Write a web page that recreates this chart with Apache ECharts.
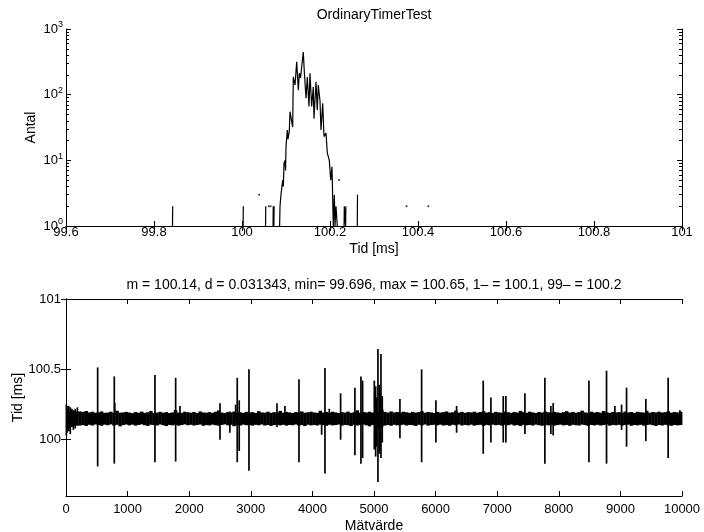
<!DOCTYPE html>
<html><head><meta charset="utf-8">
<script src="https://cdn.jsdelivr.net/npm/echarts@6/dist/echarts.min.js"></script>
<style>html,body{margin:0;padding:0;background:#fff}#c{width:704px;height:532px}</style>
</head><body><div id="c"></div>
<script>
// ---------- Histogram (top) : time bins [ms] and counts; null separates line pieces ----------
const histTime = [
  99.8420, 99.8425, null,
  100.0025, 100.0030, null,
  100.0535, 100.0540, null,
  100.0705, 100.0710, 100.0725, 100.0730, null,
  100.0855, 100.0864, 100.0886, 100.0925, 100.0940, 100.0955, 100.0977, 100.0990, 100.1000, 100.1030,
  100.1045, 100.1075, 100.1091, 100.1130, 100.1152, 100.1166, 100.1205, 100.1243, 100.1280, 100.1302,
  100.1330, 100.1357, 100.1393, 100.1416, 100.1455, 100.1484, 100.1523, 100.1545, 100.1584, 100.1620,
  100.1636, 100.1682, 100.1711, 100.1734, 100.1773, 100.1795, 100.1834, 100.1864, 100.1909, 100.1939,
  100.1984, 100.2016, 100.2045, 100.2075, 100.2098, 100.2114, 100.2136, 100.2166, null,
  100.2320, 100.2325, 100.2355, 100.2360, null,
  100.2620, 100.2625
];
const histCount = [
  1, 2, null,
  1, 2, null,
  1, 2, null,
  1, 2, 1, 2, null,
  1, 2, 3, 5, 4, 9, 10, 7, 16, 29,
  21, 28, 55, 52, 32, 186, 140, 316, 117, 212,
  180, 266, 445, 226, 88, 186, 66, 212, 66, 132,
  43, 157, 58, 140, 80, 29, 74, 23, 26, 13,
  10, 5, 8, 1, 3, 1, 2, 1, null,
  1, 2, 1, 2, null,
  1, 3
];
// isolated single bins (drawn as dots)
const dotTime  = [100.039, 100.061, 100.065, 100.2205, 100.374, 100.4234];
const dotCount = [3, 2, 2, 5, 2, 2];

// ---------- Time series (bottom) ----------
const BIN = 50; // samples per band bin
const bandHi = [
100.214,100.206,100.203,100.199,100.201,100.198,100.204,100.194,100.199,100.192,100.195,100.201,100.191,100.193,100.199,100.190,100.206,100.192,100.194,100.198,
100.193,100.189,100.197,100.192,100.200,100.191,100.195,100.204,100.190,100.193,100.198,100.192,100.196,100.190,100.194,100.211,100.193,100.191,100.199,100.195,
100.192,100.197,100.190,100.201,100.194,100.192,100.196,100.191,100.199,100.208,100.193,100.190,100.197,100.194,100.200,100.192,100.195,100.191,100.198,100.193,
100.196,100.190,100.203,100.194,100.192,100.199,100.191,100.196,100.193,100.205,100.192,100.198,100.194,100.190,100.197,100.193,100.201,100.192,100.195,100.199,
100.194,100.191,100.206,100.193,100.197,100.192,100.199,100.194,100.190,100.196,100.193,100.200,100.191,100.195,100.209,100.192,100.197,100.194,100.199,100.193,
100.204,100.195,100.214,100.198,100.193,100.201,100.194,100.197,100.192,100.199,100.195,100.191,100.198,100.193,100.196,100.203,100.192,100.197,100.194,100.190,
100.198,100.193,100.196,100.201,100.192,100.195,100.207,100.193,100.198,100.191,100.196,100.194,100.199,100.192,100.197,100.203,100.193,100.196,100.191,100.198,
100.194,100.192,100.200,100.195,100.191,100.197,100.193,100.205,100.196,100.192,100.199,100.194,100.190,100.197,100.193,100.201,100.195,100.192,100.198,100.194,
100.191,100.196,100.203,100.193,100.198,100.192,100.196,100.207,100.194,100.191,100.199,100.193,100.197,100.192,100.204,100.195,100.191,100.198,100.194,100.196,
100.192,100.200,100.194,100.197,100.191,100.198,100.195,100.193,100.206,100.192,100.197,100.194,100.199,100.193,100.196,100.202,100.192,100.197,100.194,100.199
];
const bandLo = [
100.088,100.094,100.097,100.099,100.101,100.104,100.098,100.106,100.101,100.108,100.104,100.099,100.107,100.103,100.109,100.101,100.106,100.095,100.104,100.108,
100.102,100.107,100.100,100.105,100.109,100.103,100.098,100.106,100.104,100.101,100.108,100.103,100.097,100.105,100.102,100.107,100.100,100.104,100.109,100.103,
100.106,100.101,100.105,100.108,100.099,100.104,100.102,100.107,100.103,100.100,100.105,100.109,100.102,100.106,100.096,100.104,100.101,100.107,100.103,100.105,
100.100,100.106,100.103,100.108,100.101,100.105,100.098,100.104,100.107,100.102,100.106,100.100,100.105,100.103,100.108,100.101,100.104,100.097,100.106,100.102,
100.105,100.101,100.107,100.103,100.099,100.106,100.102,100.104,100.108,100.100,100.105,100.103,100.097,100.106,100.101,100.104,100.108,100.102,100.095,100.105,
100.090,100.086,100.094,100.101,100.105,100.099,100.106,100.102,100.104,100.107,100.101,100.105,100.103,100.098,100.106,100.102,100.108,100.100,100.104,100.106,
100.102,100.107,100.101,100.104,100.099,100.106,100.103,100.108,100.101,100.105,100.102,100.107,100.100,100.104,100.106,100.098,100.105,100.102,100.107,100.103,
100.105,100.100,100.106,100.103,100.108,100.101,100.104,100.097,100.106,100.102,100.105,100.101,100.107,100.103,100.099,100.105,100.102,100.106,100.100,100.104,
100.107,100.102,100.105,100.099,100.106,100.103,100.101,100.107,100.104,100.098,100.105,100.102,100.106,100.101,100.104,100.108,100.100,100.105,100.103,100.106,
100.101,100.104,100.107,100.099,100.105,100.102,100.106,100.100,100.104,100.107,100.103,100.098,100.105,100.101,100.106,100.103,100.099,100.105,100.102,100.104
];
// outlier samples: index, highest value, lowest value (null = stays in band)
const spikeIdx  = [6, 16, 30, 45, 60, 70, 95, 120, 150, 185, 514, 784, 792, 1444, 1780, 1850, 2500, 2660, 2754, 2780, 2812, 2970, 3425, 3554, 3782,
                   4150, 4204, 4274, 4458, 4690, 4788, 4815, 5005, 5027, 5040, 5064, 5085, 5100, 5113, 5134, 5421, 5773, 6005, 6341, 6773,
                   6898, 7098, 7141, 7450, 7774, 7871, 7909, 8489, 8775, 8910, 9019, 9100, 9413, 9775, 9966];
const spikeHigh = [100.25, 100.24, 100.22, 100.24, 100.21, 100.23, 100.22, 100.21, 100.22, 100.23, 100.514, 100.45, 100.26, 100.46, 100.44, 100.24, 100.26, 100.20, 100.25, 100.44, 100.28, 100.50, 100.26, 100.24, 100.43,
                   null, 100.51, 100.22, 100.33, 100.37, 100.45, 100.42, 100.42, 100.38, 100.30, 100.645, 100.39, 100.35, 100.61, 100.31, 100.29, 100.50, 100.28, 100.24, 100.42,
                   100.30, 100.31, 100.31, 100.33, 100.44, 100.24, 100.26, 100.42, 100.49, 100.24, 100.25, 100.37, 100.29, 100.44, 100.21];
const spikeLow  = [100.03, 100.05, 100.07, 100.06, 100.08, 100.04, 100.09, 100.07, 100.08, null, 99.81, 99.83, null, 99.84, 99.845, null, 100.00, 100.05, null, 99.84, 99.92, 99.78, 100.09, null, 99.84,
                   100.035, 99.76, null, 100.00, 99.89, 99.83, 99.87, 99.93, 99.88, 99.95, 99.70, 99.90, 99.92, 99.87, 99.98, 100.01, 99.84, 99.98, 100.05, 99.90,
                   99.98, 99.98, 99.98, 100.04, 99.83, 100.04, 100.03, 99.84, 99.83, null, 100.07, 99.95, 99.99, 99.87, null];
const BASE = 100.15;

const title1 = 'OrdinaryTimerTest';
const title2 = 'm = 100.14, d = 0.031343, min= 99.696, max = 100.65, 1\u2013 = 100.1, 99\u2013 = 100.2';
const bottomYTicks = [100, 100.5, 101];

// ---------- build ----------
const FONT = 'Liberation Sans, Arial, Helvetica, sans-serif';
const histSegments = [];
let cur = [];
histTime.forEach((t, i) => {
  if (t === null) { if (cur.length) histSegments.push(cur); cur = []; }
  else cur.push([t, histCount[i]]);
});
if (cur.length) histSegments.push(cur);

const minorLog = [];
for (let d = 0; d < 3; d++) for (let k = 2; k <= 9; k++) minorLog.push(Math.log10(k * Math.pow(10, d)));

const lineBlack = { show: true, lineStyle: { color: '#000', width: 1 } };
const tickIn = (len) => ({ show: true, inside: true, length: len, lineStyle: { color: '#000', width: 1 } });
const lbl = { color: '#000', fontSize: 13, fontFamily: FONT };
const nameLbl = { color: '#000', fontSize: 14, fontFamily: FONT };

const series = [];
histSegments.forEach(seg => series.push({
  type: 'line', xAxisIndex: 0, yAxisIndex: 0, data: seg, showSymbol: false, symbol: 'none',
  lineStyle: { color: '#000', width: 1.2 }, silent: true
}));
series.push({
  type: 'scatter', xAxisIndex: 0, yAxisIndex: 0, data: dotTime.map((t, i) => [t, dotCount[i]]),
  symbolSize: 2, itemStyle: { color: '#000' }, silent: true
});
series.push({
  type: 'custom', xAxisIndex: 2, yAxisIndex: 4, silent: true,
  data: bandHi.map((h, i) => [i * BIN, h, bandLo[i]]),
  encode: { x: 0, y: [1, 2] },
  renderItem: (params, api) => {
    const x0 = api.value(0);
    const p1 = api.coord([x0, api.value(1)]);
    const p2 = api.coord([x0 + BIN, api.value(2)]);
    return { type: 'rect', shape: { x: p1[0], y: p1[1], width: p2[0] - p1[0] + 0.4, height: p2[1] - p1[1] }, style: { fill: '#000' } };
  }
});
series.push({
  type: 'custom', xAxisIndex: 2, yAxisIndex: 4, silent: true,
  data: spikeIdx.map((x, i) => [x, spikeHigh[i] === null ? BASE : spikeHigh[i], spikeLow[i] === null ? BASE : spikeLow[i]]),
  encode: { x: 0, y: [1, 2] },
  renderItem: (params, api) => {
    const a = api.coord([api.value(0), api.value(1)]);
    const b = api.coord([api.value(0), api.value(2)]);
    return { type: 'line', shape: { x1: a[0], y1: a[1], x2: b[0], y2: b[1] }, style: { stroke: '#000', lineWidth: 1.7 } };
  }
});

const option = {
  animation: false,
  backgroundColor: '#fff',
  textStyle: { fontFamily: FONT },
  grid: [
    { left: 66, top: 29, width: 616, height: 197, outerBoundsMode: 'none' },
    { left: 66, top: 299, width: 616, height: 197, outerBoundsMode: 'none' }
  ],
  graphic: [
    { type: 'text', x: 374, y: 15, style: { text: title1, fill: '#000', font: '14px ' + FONT, textAlign: 'center', textVerticalAlign: 'middle' } },
    { type: 'text', x: 374, y: 285, style: { text: title2, fill: '#000', font: '14px ' + FONT, textAlign: 'center', textVerticalAlign: 'middle' } }
  ],
  xAxis: [
    { gridIndex: 0, type: 'value', position: 'bottom', min: 99.6, max: 101, interval: 0.2,
      axisLine: lineBlack, axisTick: tickIn(5), splitLine: { show: false },
      axisLabel: Object.assign({ margin: 0 }, lbl),
      name: 'Tid [ms]', nameLocation: 'middle', nameGap: 16, nameTextStyle: nameLbl },
    { gridIndex: 0, type: 'value', position: 'top', min: 99.6, max: 101, interval: 0.2,
      axisLine: lineBlack, axisTick: tickIn(5), splitLine: { show: false }, axisLabel: { show: false } },
    { gridIndex: 1, type: 'value', position: 'bottom', min: 0, max: 10000, interval: 1000,
      axisLine: lineBlack, axisTick: tickIn(5), splitLine: { show: false },
      axisLabel: Object.assign({ margin: 7, formatter: v => String(v) }, lbl),
      name: 'M\u00e4tv\u00e4rde', nameLocation: 'middle', nameGap: 23, nameTextStyle: nameLbl },
    { gridIndex: 1, type: 'value', position: 'top', min: 0, max: 10000, interval: 1000,
      axisLine: lineBlack, axisTick: tickIn(5), splitLine: { show: false }, axisLabel: { show: false } }
  ],
  yAxis: [
    { gridIndex: 0, type: 'log', logBase: 10, min: 1, max: 1000, position: 'left',
      axisLine: lineBlack, axisTick: tickIn(5), splitLine: { show: false }, minorTick: { show: false },
      axisLabel: Object.assign({ margin: 3,
        formatter: v => '10{s|' + Math.round(Math.log10(v)) + '}',
        rich: { s: { fontSize: 9, fontFamily: FONT, color: '#000', padding: [0, 0, 8, 0] } } }, lbl),
      name: 'Antal', nameLocation: 'middle', nameGap: 28, nameMoveOverlap: false, nameTextStyle: nameLbl },
    { gridIndex: 0, type: 'log', logBase: 10, min: 1, max: 1000, position: 'right',
      axisLine: lineBlack, axisTick: tickIn(5), splitLine: { show: false }, axisLabel: { show: false } },
    { gridIndex: 0, type: 'value', min: 0, max: 3, position: 'left',
      axisLine: { show: false }, splitLine: { show: false }, axisLabel: { show: false },
      axisTick: Object.assign(tickIn(3), { customValues: minorLog }) },
    { gridIndex: 0, type: 'value', min: 0, max: 3, position: 'right',
      axisLine: { show: false }, splitLine: { show: false }, axisLabel: { show: false },
      axisTick: Object.assign(tickIn(3), { customValues: minorLog }) },
    { gridIndex: 1, type: 'value', min: 99.6, max: 101, position: 'left',
      axisLine: lineBlack, axisTick: Object.assign(tickIn(5), { customValues: bottomYTicks }), splitLine: { show: false },
      axisLabel: Object.assign({ margin: 5, customValues: bottomYTicks }, lbl),
      name: 'Tid [ms]', nameLocation: 'middle', nameGap: 41, nameMoveOverlap: false, nameTextStyle: nameLbl },
    { gridIndex: 1, type: 'value', min: 99.6, max: 101, position: 'right',
      axisLine: lineBlack, axisTick: Object.assign(tickIn(5), { customValues: bottomYTicks }), splitLine: { show: false },
      axisLabel: { show: false } }
  ],
  series: series
};
const chart = echarts.init(document.getElementById('c'), null, { renderer: 'canvas' });
chart.setOption(option);
</script>
</body></html>
